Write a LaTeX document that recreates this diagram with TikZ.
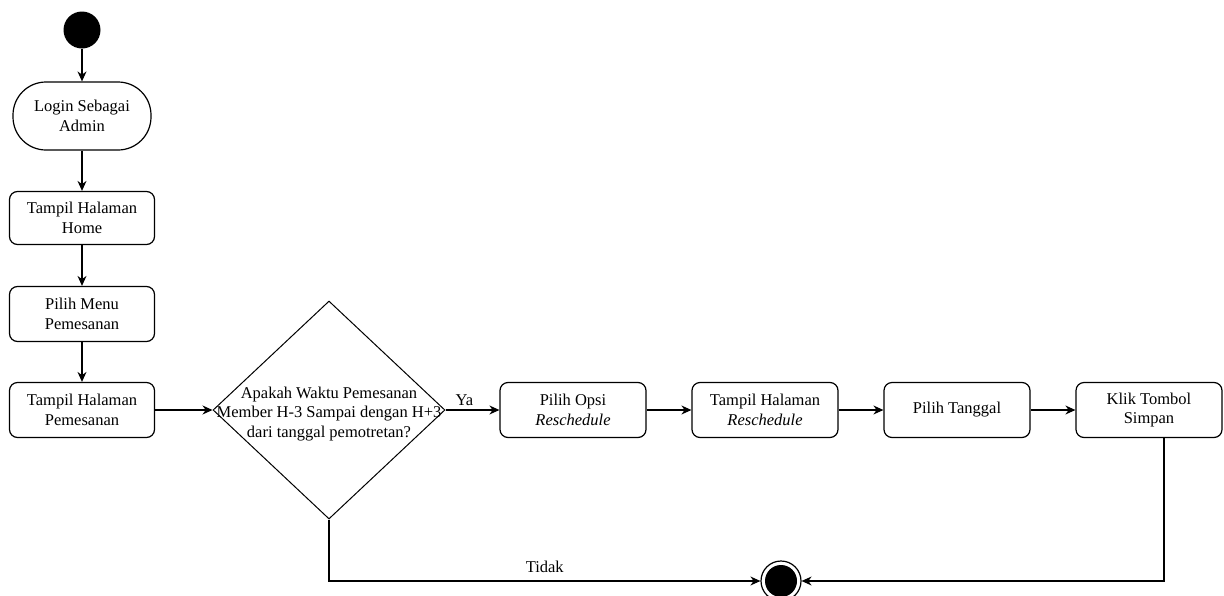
\documentclass[tikz,border=0pt]{standalone}
\usepackage{fontspec}
\setmainfont{Liberation Serif}[Ligatures=TeX]
\newfontfamily\lserif{Liberation Serif}
\usetikzlibrary{arrows.meta,shapes.geometric}
\begin{document}
\begin{tikzpicture}[x=1pt,y=-1pt,
  font=\lserif\fontsize{16.5}{19.5}\selectfont,
  act/.style={draw, line width=1.2pt, rounded corners=8pt, minimum width=145pt, minimum height=55pt, inner sep=0pt, align=center, fill=white},
  flow/.style={line width=1.2pt, -{Stealth[length=10pt,width=9pt]}},
  lbl/.style={inner sep=2pt}
]
\useasboundingbox (0,0) rectangle (1224,595);
\node[circle, fill=black, minimum size=37pt, inner sep=0pt] (start) at (82,30) {};
\node[act, rounded corners=33pt, minimum width=138pt, minimum height=68pt] (login) at (82,116) {Login Sebagai\\Admin};
\node[act, minimum height=53pt] (home) at (82,218) {Tampil Halaman\\Home};
\node[act] (menu) at (82,314) {Pilih Menu\\Pemesanan};
\node[act] (pem) at (82,410) {Tampil Halaman\\Pemesanan};
\node[diamond, draw, line width=1pt, minimum width=232pt, minimum height=218pt, inner sep=0pt] (dec) at (329,410) {};
\node[align=center, inner sep=0pt] (dectext) at (329,414) {Apakah Waktu Pemesanan\\Member H-3 Sampai dengan H+3\\dari tanggal pemotretan?};
\node[act, minimum width=146pt] (opsi) at (573,410) {Pilih Opsi\\\textit{Reschedule}};
\node[act, minimum width=146pt] (tres) at (765,410) {Tampil Halaman\\\textit{Reschedule}};
\node[act, minimum width=146pt] (tgl) at (957,410) {Pilih Tanggal};
\node[act, minimum width=146pt] (klik) at (1149,410) {Klik Tombol\\Simpan};
\node[circle, draw, line width=1.2pt, fill=white, minimum size=40pt, inner sep=0pt] (end) at (781,581) {};
\node[circle, fill=black, minimum size=32pt, inner sep=0pt] at (end) {};
\draw[flow] (start) -- (login);
\draw[flow] (login) -- (home);
\draw[flow] (home) -- (menu);
\draw[flow] (menu) -- (pem);
\draw[flow] (pem) -- (dec.west);
\draw[flow] (dec.east) -- node[lbl, above, xshift=-8pt, yshift=2pt] {Ya} (opsi);
\draw[flow] (opsi) -- (tres);
\draw[flow] (tres) -- (tgl);
\draw[flow] (tgl) -- (klik);
\draw[flow] (dec.south) |- node[lbl, above, pos=0.75, yshift=6pt] {Tidak} (end.west);
\draw[flow] ([xshift=15pt]klik.south) |- (end.east);
\end{tikzpicture}
\end{document}
